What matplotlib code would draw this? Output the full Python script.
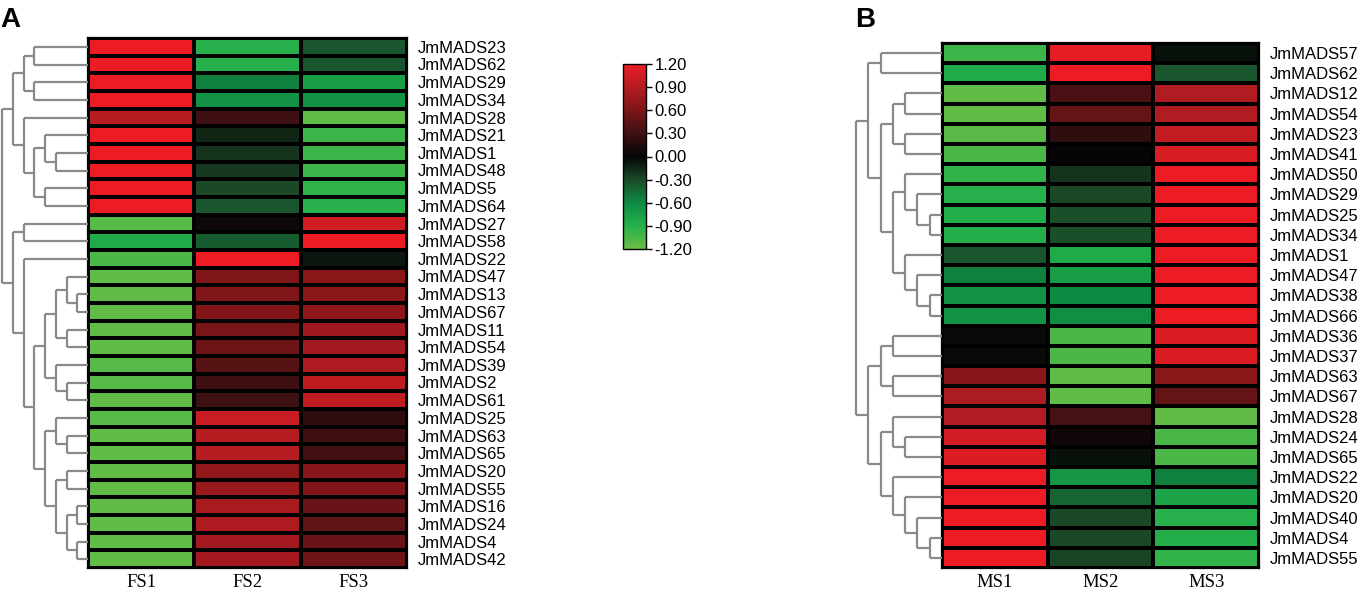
import numpy as np
import matplotlib
matplotlib.use('Agg')
import matplotlib.pyplot as plt
from matplotlib.colors import LinearSegmentedColormap, Normalize
from matplotlib.cm import ScalarMappable

plt.rcParams['axes.unicode_minus'] = False

W, H = 1363, 592
fig = plt.figure(figsize=(W / 100, H / 100), dpi=100)

# ---------------- data ----------------
genes_a = ['JmMADS23', 'JmMADS62', 'JmMADS29', 'JmMADS34', 'JmMADS28', 'JmMADS21',
           'JmMADS1', 'JmMADS48', 'JmMADS5', 'JmMADS64', 'JmMADS27', 'JmMADS58',
           'JmMADS22', 'JmMADS47', 'JmMADS13', 'JmMADS67', 'JmMADS11', 'JmMADS54',
           'JmMADS39', 'JmMADS2', 'JmMADS61', 'JmMADS25', 'JmMADS63', 'JmMADS65',
           'JmMADS20', 'JmMADS55', 'JmMADS16', 'JmMADS24', 'JmMADS4', 'JmMADS42']
cols_a = ['FS1', 'FS2', 'FS3']
fs1 = [1.2, 1.2, 1.2, 1.2, 0.9, 1.2, 1.2, 1.2, 1.2, 1.2, -1.1, -0.85, -1.05, -1.15, -1.15,
       -1.15, -1.15, -1.15, -1.1, -1.1, -1.15, -1.1, -1.15, -1.15, -1.15, -1.15, -1.15,
       -1.15, -1.15, -1.15]
fs2 = [-0.9, -0.9, -0.55, -0.65, 0.3, -0.15, -0.2, -0.22, -0.3, -0.35, 0.05, -0.38, 1.2,
       0.62, 0.62, 0.62, 0.58, 0.52, 0.42, 0.3, 0.3, 1.0, 0.9, 0.9, 0.72, 0.75, 0.83, 0.86,
       0.8, 0.8]
fs3 = [-0.35, -0.35, -0.75, -0.65, -1.15, -1.0, -1.0, -1.0, -0.95, -0.9, 1.05, 1.2, -0.08,
       0.68, 0.68, 0.7, 0.78, 0.8, 0.86, 0.95, 0.95, 0.22, 0.3, 0.32, 0.66, 0.62, 0.5, 0.46,
       0.5, 0.53]

genes_b = ['JmMADS57', 'JmMADS62', 'JmMADS12', 'JmMADS54', 'JmMADS23', 'JmMADS41',
           'JmMADS50', 'JmMADS29', 'JmMADS25', 'JmMADS34', 'JmMADS1', 'JmMADS47',
           'JmMADS38', 'JmMADS66', 'JmMADS36', 'JmMADS37', 'JmMADS63', 'JmMADS67',
           'JmMADS28', 'JmMADS24', 'JmMADS65', 'JmMADS22', 'JmMADS20', 'JmMADS40',
           'JmMADS4', 'JmMADS55']
cols_b = ['MS1', 'MS2', 'MS3']
ms1 = [-1.0, -0.85, -1.15, -1.15, -1.12, -1.05, -0.95, -0.9, -0.88, -0.88, -0.35, -0.55,
       -0.65, -0.65, -0.02, -0.02, 0.66, 0.85, 0.88, 1.05, 1.1, 1.2, 1.2, 1.2, 1.2, 1.2]
ms2 = [1.15, 1.2, 0.35, 0.48, 0.22, 0.0, -0.2, -0.3, -0.32, -0.32, -0.85, -0.75, -0.6, -0.62,
       -1.05, -1.05, -1.15, -1.15, 0.33, 0.05, -0.05, -0.7, -0.42, -0.3, -0.3, -0.28]
ms3 = [-0.05, -0.35, 0.88, 0.88, 0.98, 1.08, 1.2, 1.2, 1.2, 1.2, 1.2, 1.2, 1.2, 1.2, 1.1,
       1.1, 0.68, 0.48, -1.15, -1.05, -1.05, -0.55, -0.8, -0.9, -0.88, -0.95]

# dendrograms: (left, right, merge level), leaves are row indices
top_a = (((0, 1, 5), (2, 3, 5), 6),
         (4, ((5, (6, 7, 3), 4), (8, 9, 4), 5), 6), 7)
mid_a = (((13, (14, 15, 1), 2), (16, 17, 2), 3), (18, (19, 20, 2), 3), 4)
low_a = ((21, (22, 23, 2), 3), ((24, 25, 2), ((26, 27, 1), (28, 29, 1), 2), 3), 4)
bottom_a = ((10, 11, 6), (12, (mid_a, low_a, 5), 6), 7)
tree_a = (top_a, bottom_a, 8)

upper_b = ((0, 1, 5),
           (((2, 3, 3), (4, 5, 3), 4),
            ((6, (7, (8, 9, 1), 2), 3), (10, (11, (12, 13, 1), 2), 3), 4), 5), 6)
lower_b = (((14, 15, 4), (16, 17, 4), 5),
           ((18, (19, 20, 3), 4), (21, (22, (23, (24, 25, 1), 2), 3), 4), 5), 6)
tree_b = (upper_b, lower_b, 7)

cbar_ticks = [-1.2, -0.9, -0.6, -0.3, 0.0, 0.3, 0.6, 0.9, 1.2]
cmap_colors = ['#6BBE45', '#25B04B', '#0E8B43', '#1B4A28', '#050505',
               '#3E1012', '#7C1518', '#B41C22', '#ED1C24']

cmap = LinearSegmentedColormap.from_list(
    'gkr', list(zip(np.linspace(0, 1, len(cmap_colors)), cmap_colors)))
norm = Normalize(-1.2, 1.2)


def px_axes(x0, y0, x1, y1):
    return fig.add_axes([x0 / W, 1 - y1 / H, (x1 - x0) / W, (y1 - y0) / H])


def draw_heatmap(ax, data, genes, cols):
    ax.pcolormesh(data, cmap=cmap, norm=norm, edgecolors='black', linewidth=1.5)
    ax.set_xlim(0, data.shape[1])
    ax.set_ylim(data.shape[0], 0)
    for s in ax.spines.values():
        s.set_linewidth(1.6)
        s.set_color('black')
    ax.yaxis.tick_right()
    ax.set_yticks(np.arange(len(genes)) + 0.5)
    ax.set_yticklabels(genes, family='Liberation Sans', fontsize=12)
    ax.set_xticks(np.arange(len(cols)) + 0.5)
    ax.set_xticklabels(cols, family='Liberation Serif', fontsize=13.5)
    ax.tick_params(axis='y', length=0, pad=8)
    ax.tick_params(axis='x', length=0, pad=4)


def draw_tree(ax, node, color='#8a8a8a'):
    # returns (y, level) of the node
    if isinstance(node, int):
        return node + 0.5, 0
    left, right, lev = node
    y1, l1 = draw_tree(ax, left, color)
    y2, l2 = draw_tree(ax, right, color)
    kw = dict(color=color, lw=1.6, solid_capstyle='butt', clip_on=False)
    ax.plot([l1, lev], [y1, y1], **kw)
    ax.plot([l2, lev], [y2, y2], **kw)
    ax.plot([lev, lev], [y1, y2], **kw)
    return (y1 + y2) / 2, lev


# ---------------- panel A ----------------
data_a = np.column_stack([fs1, fs2, fs3])
ax_a = px_axes(88, 38, 407, 568)
draw_heatmap(ax_a, data_a, genes_a, cols_a)

ax_da = px_axes(2, 38, 88, 568)
draw_tree(ax_da, tree_a)
ax_da.set_xlim(8, 0)
ax_da.set_ylim(len(genes_a), 0)
ax_da.axis('off')

# ---------------- colorbar ----------------
ax_cb = px_axes(623, 64, 646, 249)
cb = fig.colorbar(ScalarMappable(norm=norm, cmap=cmap), cax=ax_cb, ticks=cbar_ticks)
cb.ax.set_yticklabels(['%.2f' % t for t in cbar_ticks], family='Liberation Sans', fontsize=12)
cb.ax.tick_params(length=4, width=1, pad=2)
cb.outline.set_linewidth(1)

# ---------------- panel B ----------------
data_b = np.column_stack([ms1, ms2, ms3])
ax_b = px_axes(942, 43, 1259, 568)
draw_heatmap(ax_b, data_b, genes_b, cols_b)

ax_db = px_axes(856, 43, 942, 568)
draw_tree(ax_db, tree_b)
ax_db.set_xlim(7, 0)
ax_db.set_ylim(len(genes_b), 0)
ax_db.axis('off')

fig.text(0 / W, 1 - 27 / H, 'A', fontsize=20, fontweight='bold', family='Liberation Sans')
fig.text(855 / W, 1 - 27 / H, 'B', fontsize=20, fontweight='bold', family='Liberation Sans')

fig.savefig('out.png', dpi=100, facecolor='white')
